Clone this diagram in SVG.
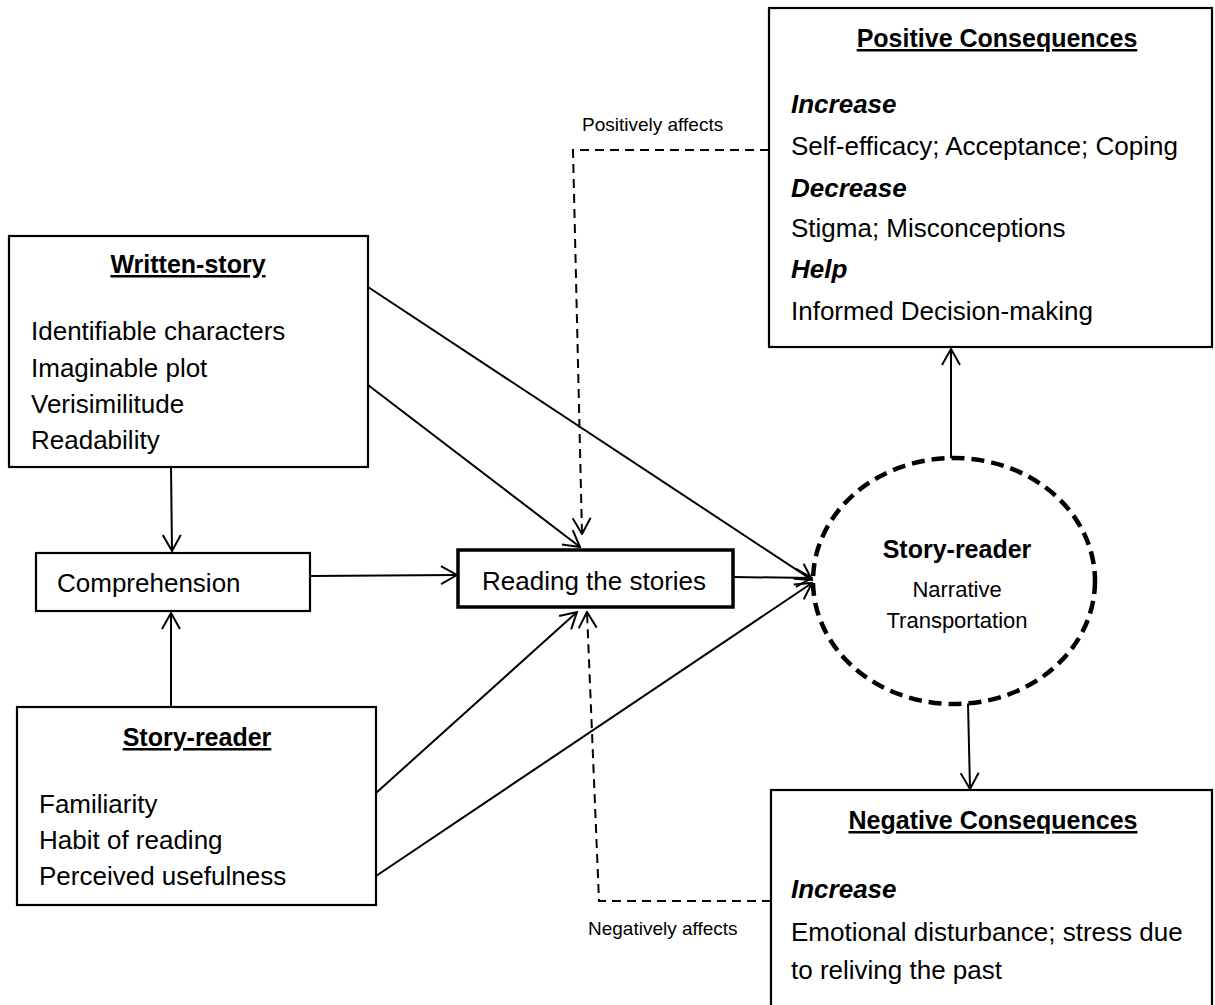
<svg xmlns="http://www.w3.org/2000/svg" width="1215" height="1005" viewBox="0 0 1215 1005">
<style>
text{font-family:"Liberation Sans",Arial,sans-serif;fill:#000}
.box{fill:#fff;stroke:#000;stroke-width:2.2}
.thick{fill:#fff;stroke:#000;stroke-width:3.5}
.ttl{font-size:25px;font-weight:bold;text-decoration:underline;text-anchor:middle}
.itm{font-size:26px}
.hd{font-size:26px;font-weight:bold;font-style:italic}
.lbl{font-size:19px}
.ln{fill:none;stroke:#000;stroke-width:2}
.dash{fill:none;stroke:#000;stroke-width:2;stroke-dasharray:9 6}
</style>
<defs>
<marker id="arr" viewBox="0 0 18 20" refX="17" refY="10" markerWidth="18" markerHeight="20" orient="auto" markerUnits="userSpaceOnUse">
<path d="M1,1 L17,10 L1,19" fill="none" stroke="#000" stroke-width="2"/>
</marker>
</defs>
<g id="connectors">
<line class="ln" x1="368" y1="287" x2="812" y2="580" marker-end="url(#arr)"/>
<line class="ln" x1="368" y1="385" x2="580" y2="547" marker-end="url(#arr)"/>
<line class="ln" x1="171" y1="467" x2="172" y2="551" marker-end="url(#arr)"/>
<line class="ln" x1="171" y1="707" x2="171" y2="613" marker-end="url(#arr)"/>
<line class="ln" x1="310" y1="576" x2="457" y2="575" marker-end="url(#arr)"/>
<line class="ln" x1="733" y1="577" x2="812" y2="578" marker-end="url(#arr)"/>
<line class="ln" x1="376" y1="793" x2="577" y2="612" marker-end="url(#arr)"/>
<line class="ln" x1="376" y1="876" x2="812" y2="583" marker-end="url(#arr)"/>
<line class="ln" x1="951" y1="459" x2="951" y2="349" marker-end="url(#arr)"/>
<line class="ln" x1="968" y1="703" x2="970" y2="789" marker-end="url(#arr)"/>
<polyline class="dash" points="769,150 573,150 582,534" marker-end="url(#arr)"/>
<polyline class="dash" points="771,901 599,901 587,612" marker-end="url(#arr)"/>
<text class="lbl" x="582" y="131">Positively affects</text>
<text class="lbl" x="588" y="935">Negatively affects</text>
</g>
<g id="positive">
<rect class="box" x="769" y="8" width="443" height="339"/>
<text class="ttl" x="997" y="47">Positive Consequences</text>
<text class="hd" x="791" y="113">Increase</text>
<text class="itm" x="791" y="155">Self-efficacy; Acceptance; Coping</text>
<text class="hd" x="791" y="197">Decrease</text>
<text class="itm" x="791" y="237">Stigma; Misconceptions</text>
<text class="hd" x="791" y="278">Help</text>
<text class="itm" x="791" y="320">Informed Decision-making</text>
</g>
<g id="written-story">
<rect class="box" x="9" y="236" width="359" height="231"/>
<text class="ttl" x="188" y="273">Written-story</text>
<text class="itm" x="31" y="340">Identifiable characters</text>
<text class="itm" x="31" y="377">Imaginable plot</text>
<text class="itm" x="31" y="413">Verisimilitude</text>
<text class="itm" x="31" y="449">Readability</text>
</g>
<g id="comprehension">
<rect class="box" x="36" y="553" width="274" height="58"/>
<text class="itm" x="57" y="592">Comprehension</text>
</g>
<g id="reading">
<rect class="thick" x="458" y="550" width="275" height="57"/>
<text class="itm" x="482" y="590">Reading the stories</text>
</g>
<g id="story-reader-state">
<ellipse cx="954" cy="581" rx="141" ry="123" fill="#fff" stroke="#000" stroke-width="4.5" stroke-dasharray="13 7"/>
<text x="957" y="558" font-size="25" font-weight="bold" text-anchor="middle">Story-reader</text>
<text x="957" y="597" font-size="22" text-anchor="middle">Narrative</text>
<text x="957" y="628" font-size="22" text-anchor="middle">Transportation</text>
</g>
<g id="story-reader">
<rect class="box" x="17" y="707" width="359" height="198"/>
<text class="ttl" x="197" y="746">Story-reader</text>
<text class="itm" x="39" y="813">Familiarity</text>
<text class="itm" x="39" y="849">Habit of reading</text>
<text class="itm" x="39" y="885">Perceived usefulness</text>
</g>
<g id="negative">
<rect class="box" x="771" y="790" width="441" height="240"/>
<text class="ttl" x="993" y="829">Negative Consequences</text>
<text class="hd" x="791" y="898">Increase</text>
<text class="itm" x="791" y="941">Emotional disturbance; stress due</text>
<text class="itm" x="791" y="979">to reliving the past</text>
</g>
</svg>
